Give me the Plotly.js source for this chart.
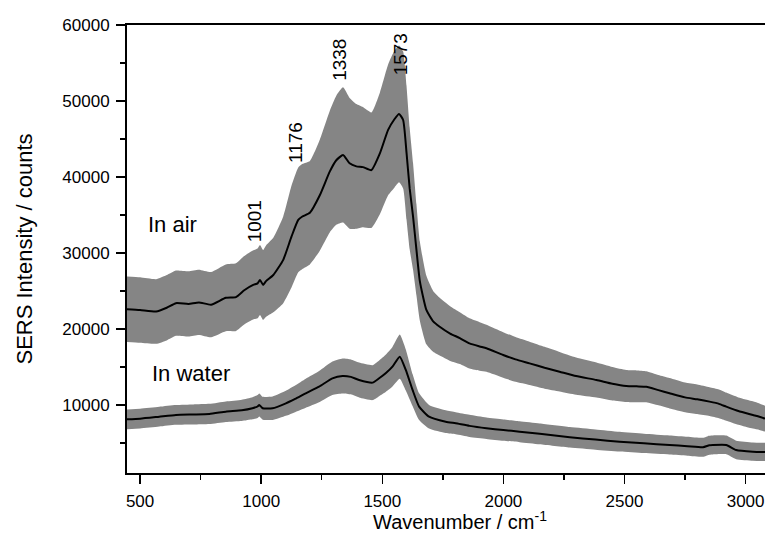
<!DOCTYPE html>
<html>
<head>
<meta charset="utf-8">
<script src="https://cdn.plot.ly/plotly-3.0.1.min.js"></script>
<style>html,body{margin:0;padding:0;background:#fff;}#chart{width:765px;height:545px;}</style>
</head>
<body>
<div id="chart"></div>
<script>
// Wavenumber (cm^-1), mean SERS intensity (counts) and error (counts)
var airX = [446,500,566,610,648,700,743,793,854,896,930,967,985,995,1008,1020,1050,1091,1125,1153,1170,1201,1242,1283,1310,1338,1365,1393,1420,1455,1490,1524,1550,1569,1586,1600,1613,1627,1641,1655,1682,1710,1737,1780,1820,1860,1902,1930,1999,2050,2108,2170,2232,2300,2384,2450,2507,2550,2590,2640,2686,2750,2800,2851,2890,2920,2970,3030,3057,3080];
var airMean = [22600,22500,22300,22800,23400,23300,23500,23200,24100,24200,25100,25800,26000,26450,25800,26300,27100,29100,32150,34350,34800,35300,37600,40700,42200,42900,41800,41400,41300,40900,43100,46200,47600,48300,47500,43200,38500,34800,30400,26300,22500,21000,20300,19400,18800,18100,17700,17460,16580,16000,15480,14900,14380,13800,13290,12800,12500,12450,12400,11950,11540,11000,10750,10440,10150,9780,9200,8690,8460,8200];
var airErr = [4300,4300,4250,4300,4300,4300,4300,4300,4400,4450,4500,4550,4600,4600,4600,4700,4900,5700,6700,6900,6900,6800,7300,8000,8500,8900,8600,8200,7900,7600,8000,8600,9000,9000,9000,8800,8000,7000,6000,5200,4500,4000,3800,3600,3400,3300,3200,3100,3000,2950,2850,2750,2600,2450,2300,2200,2100,2100,2050,2000,2000,1950,1950,1900,1900,1850,1800,1800,1750,1700];

var waterX = [446,500,579,648,720,786,854,920,964,985,992,1000,1006,1047,1102,1140,1184,1239,1294,1336,1370,1404,1460,1487,1515,1542,1572,1597,1625,1652,1693,1762,1803,1860,1930,2000,2067,2150,2274,2380,2480,2580,2686,2760,2824,2850,2865,2920,2961,3030,3080];
var waterMean = [8120,8200,8460,8690,8750,8820,9120,9300,9570,9800,10000,9750,9570,9570,10220,10800,11540,12410,13510,13820,13700,13290,12940,13510,14200,15040,16360,14610,11980,9780,8460,7800,7590,7250,6940,6700,6490,6200,5750,5450,5170,4950,4740,4580,4430,4700,4740,4740,4080,3860,3820];
var waterErr = [1300,1300,1300,1300,1320,1330,1350,1400,1450,1500,1500,1500,1500,1550,1650,1750,1900,2050,2200,2300,2300,2300,2300,2350,2450,2600,2900,2700,2100,1750,1550,1500,1450,1450,1400,1400,1380,1370,1350,1330,1300,1280,1260,1250,1250,1250,1250,1230,1220,1200,1200];

var seriesLabels = ["In air", "In water"];
var peakLabels = ["1001", "1176", "1338", "1573"];
var peakX = [974, 1142, 1325, 1575];
var peakY = [34150, 44550, 55400, 56200];

function band(x, m, e, name) {
  var lo = m.map(function (v, i) { return v - e[i]; });
  var hi = m.map(function (v, i) { return v + e[i]; });
  return [
    {x: x, y: lo, type: 'scatter', mode: 'lines', line: {width: 0, color: '#858585', shape: 'spline', smoothing: 0.5}, hoverinfo: 'skip', showlegend: false},
    {x: x, y: hi, type: 'scatter', mode: 'lines', fill: 'tonexty', fillcolor: '#858585', line: {width: 0, color: '#858585', shape: 'spline', smoothing: 0.5}, hoverinfo: 'skip', showlegend: false},
    {x: x, y: m, type: 'scatter', mode: 'lines', name: name, line: {width: 2, color: '#000000', shape: 'spline', smoothing: 0.5}, showlegend: false}
  ];
}

var data = band(airX, airMean, airErr, seriesLabels[0]).concat(band(waterX, waterMean, waterErr, seriesLabels[1]));

var font = "'Liberation Sans', Arial, sans-serif";
var annotations = [
  {x: 524, y: 33700, xref: 'x', yref: 'y', text: seriesLabels[0], showarrow: false, xanchor: 'left', yanchor: 'middle', font: {family: font, size: 22, color: '#000'}},
  {x: 541, y: 14200, xref: 'x', yref: 'y', text: seriesLabels[1], showarrow: false, xanchor: 'left', yanchor: 'middle', font: {family: font, size: 22, color: '#000'}},
  {x: 1821, y: 0, xref: 'x', yref: 'paper', yshift: -47, text: 'Wavenumber / cm<sup>-1</sup>', showarrow: false, xanchor: 'center', yanchor: 'middle', font: {family: font, size: 20, color: '#000'}}
];
peakLabels.forEach(function (t, i) {
  annotations.push({x: peakX[i], y: peakY[i], xref: 'x', yref: 'y', text: t, textangle: -90, showarrow: false, xanchor: 'center', yanchor: 'middle', font: {family: font, size: 19, color: '#000'}});
});

var layout = {
  width: 765, height: 545,
  margin: {l: 127, r: 0, t: 25, b: 72, pad: 0},
  paper_bgcolor: '#fff', plot_bgcolor: '#fff',
  showlegend: false,
  font: {family: font, color: '#000'},
  xaxis: {
    range: [446, 3080], showgrid: false, zeroline: false,
    showline: true, linecolor: '#000', linewidth: 2, mirror: true,
    ticks: 'outside', ticklen: 9, tickwidth: 1.5, tickcolor: '#000',
    tickvals: [500, 1000, 1500, 2000, 2500, 3000],
    ticktext: ['500', '1000', '1500', '2000', '2500', '3000'],
    tickfont: {family: font, size: 17, color: '#000'},
    ticklabelstandoff: 3,
    minor: {dtick: 250, tick0: 0, ticks: 'outside', ticklen: 5, tickwidth: 1.5, tickcolor: '#000', showgrid: false}
  },
  yaxis: {
    range: [1050, 60000], showgrid: false, zeroline: false,
    showline: true, linecolor: '#000', linewidth: 2, mirror: false,
    ticks: 'outside', ticklen: 9, tickwidth: 1.5, tickcolor: '#000',
    tickvals: [10000, 20000, 30000, 40000, 50000, 60000],
    ticktext: ['10000', '20000', '30000', '40000', '50000', '60000'],
    tickfont: {family: font, size: 17, color: '#000'},
    ticklabelstandoff: 3,
    minor: {dtick: 5000, tick0: 0, ticks: 'outside', ticklen: 5, tickwidth: 1.5, tickcolor: '#000', showgrid: false},
    title: {text: 'SERS Intensity / counts', font: {family: font, size: 22, color: '#000'}, standoff: 24}
  },
  annotations: annotations
};

Plotly.newPlot('chart', data, layout, {displayModeBar: false, staticPlot: true});
</script>
</body>
</html>
